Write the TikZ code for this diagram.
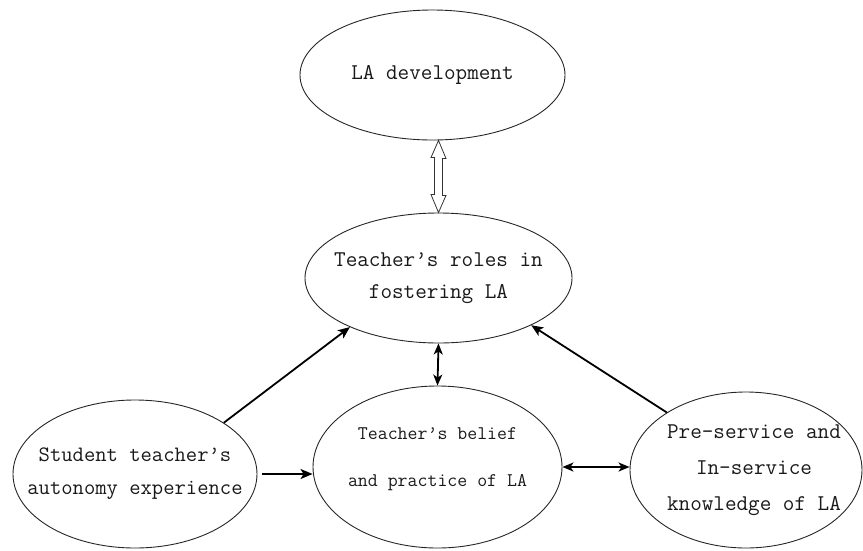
\documentclass[tikz,border=0pt]{standalone}
\usepackage{fontspec}
\usetikzlibrary{arrows.meta,shapes.geometric}
\begin{document}
\begin{tikzpicture}[x=1pt,y=-1pt,
  oval/.style={draw=black!85,line width=0.9pt,ellipse,inner xsep=-45pt,inner ysep=0pt,align=center,
    text=black!90,font=\ttfamily\fontsize{22.5}{32}\selectfont},
  arr/.style={line width=1.8pt,-{Stealth[length=12pt,width=10pt,inset=3pt]}},
  darr/.style={line width=1.8pt,{Stealth[length=11pt,width=9pt,inset=3pt]}-{Stealth[length=11pt,width=9pt,inset=3pt]}},
  hollow/.style={draw=black!80,line width=0.8pt,fill=white,line join=miter}]
\useasboundingbox (0,0) rectangle (863,550);
\node[oval,minimum width=265pt,minimum height=130pt] (top) at (432.5,75) {LA development};
\node[oval,minimum width=267pt,minimum height=130pt] (roles) at (438.5,278) {Teacher’s roles in\\fostering LA};
\node[oval,minimum width=249pt,minimum height=162pt,font=\ttfamily\fontsize{19.3}{47}\selectfont,text depth=20pt] (belief) at (437.5,467) {Teacher’s belief\\and practice of LA};
\node[oval,minimum width=244pt,minimum height=148pt,font=\ttfamily\fontsize{22}{33}\selectfont] (stu) at (135,474) {Student teacher’s\\autonomy experience};
\node[oval,minimum width=232pt,minimum height=156pt,font=\ttfamily\fontsize{22.5}{36}\selectfont] (pre) at (746,470) {\hspace*{16pt}Pre-service and\\\hspace*{16pt}In-service\\\hspace*{16pt}knowledge of LA};
% hollow double arrow
\coordinate (da) at (roles.north |- top.south);
\coordinate (db) at (roles.north);
\draw[hollow] (da) -- ++(7.5,18) -- ++(-3.5,0) -- ++(0,37) -- ++(3.5,0) -- (db)
  -- ++(-7.5,-18) -- ++(3.5,0) -- ++(0,-37) -- ++(-3.5,0) -- cycle;
% connectors
\draw[arr] (stu.30) -- (roles.209);
\draw[arr,shorten <=5pt] (stu.east) -- (stu.east -| belief.west);
\draw[darr] (roles.south) -- (belief.north);
\draw[darr] (belief.east) -- (belief.east -| pre.west);
\draw[arr] (pre.144) -- (roles.333);
\end{tikzpicture}
\end{document}
